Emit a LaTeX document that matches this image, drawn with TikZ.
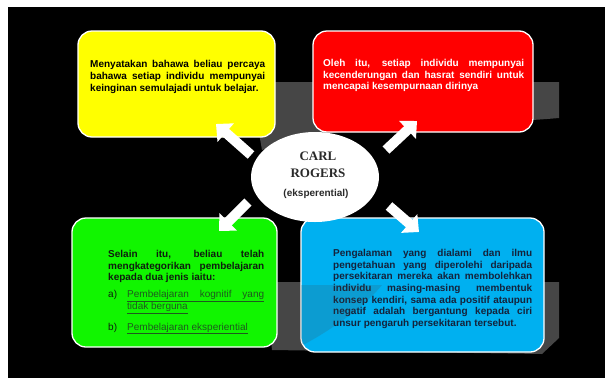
\documentclass[tikz,border=0pt]{standalone}
\usepackage{fontspec}
\setmainfont{Liberation Sans}
\newfontfamily\rogersfont{Liberation Serif}
\usetikzlibrary{arrows.meta,shapes.geometric}
\definecolor{swoosh}{HTML}{464646}
\definecolor{ybox}{HTML}{FFFF00}
\definecolor{rbox}{HTML}{FF0000}
\definecolor{gbox}{HTML}{11F500}
\definecolor{bbox}{HTML}{00B0F0}
\definecolor{bluetext}{HTML}{14233C}
\definecolor{greentext}{HTML}{0E1E0E}
\definecolor{linktext}{HTML}{1E5A1E}
\definecolor{titletext}{HTML}{2A2A2A}
\newcommand\JL[2]{\makebox[#1][s]{#2}}
\begin{document}
\begin{tikzpicture}[x=1pt,y=-1pt,
  card/.style={draw=white, line width=1.3pt, rounded corners=14pt, inner sep=0pt},
  body/.style={inner sep=0pt, anchor=north west, align=left,
    font=\fontsize{10}{11.7}\selectfont\bfseries},
  bigarrow/.style={draw=white, line width=10pt, -{Triangle[width=24pt,length=13pt]}},
]
\useasboundingbox (0,0) rectangle (605,378);
\fill[white] (0,0) rectangle (605,378);
\fill[black] (8,7) rectangle (605,378);

% decorative swooshes
\fill[swoosh] (250,82) -- (559,82) -- (559,118)
  .. controls (470,126) and (330,122) .. (262,150) -- cycle;
\fill[swoosh] (265,282) -- (559,282) -- (559,338) -- (542,354) -- (272,350) -- cycle;

% boxes
\node[card, fill=ybox, minimum width=197pt, minimum height=106pt] (yellow) at (176.5,84) {};
\node[card, fill=rbox, minimum width=220pt, minimum height=101pt] (red) at (423,81.5) {};
\node[card, fill=gbox, minimum width=205pt, minimum height=129pt] (green) at (174.5,282.5) {};
\node[card, fill=bbox, minimum width=243pt, minimum height=134pt] (blue) at (422.5,285) {};

% texts
\node[body, text=black] (ytext) at (90,60.5) {%
\JL{175pt}{Menyatakan bahawa beliau percaya}\\
\JL{175pt}{bahawa setiap individu mempunyai}\\
keinginan semulajadi untuk belajar.};

\node[body, text=white] (rtext) at (323,59) {%
\JL{201pt}{Oleh itu, setiap individu mempunyai}\\
\JL{201pt}{kecenderungan dan hasrat sendiri untuk}\\
mencapai kesempurnaan dirinya};

\node[body, text=greentext] (gtext) at (108,250) {%
\JL{156pt}{Selain itu, beliau telah}\\
\JL{156pt}{mengkategorikan pembelajaran}\\
kepada dua jenis iaitu:\\[5.3pt]
{\mdseries\makebox[19pt][l]{a)}\color{linktext}\underline{\JL{137pt}{Pembelajaran kognitif yang}}}\\
{\mdseries\hspace*{19pt}\color{linktext}\underline{tidak berguna}}\\[8.8pt]
{\mdseries\makebox[19pt][l]{b)}\color{linktext}\underline{Pembelajaran eksperiential}}};

\node[body, text=bluetext] (btext) at (333,249) {%
\JL{199pt}{Pengalaman yang dialami dan ilmu}\\
\JL{199pt}{pengetahuan yang diperolehi daripada}\\
\JL{199pt}{persekitaran mereka akan membolehkan}\\
\JL{199pt}{individu masing-masing membentuk}\\
\JL{199pt}{konsep kendiri, sama ada positif ataupun}\\
\JL{199pt}{negatif adalah bergantung kepada ciri}\\
unsur pengaruh persekitaran tersebut.};

% translucent swoosh over the blue box
\begin{scope}
  \clip[rounded corners=14pt] (301,218) rectangle (544,352);
  \fill[swoosh, opacity=0.18] (301,285) -- (382,285)
    .. controls (366,305) and (332,330) .. (301,346) -- cycle;
\end{scope}

% centre ellipse
\node[ellipse, fill=white, minimum width=128pt, minimum height=90pt, inner sep=0pt] (centre) at (315,177) {};
\node[font=\rogersfont\bfseries\fontsize{13}{17}\selectfont, text=titletext, align=center, inner sep=0pt] (title) at (318,164.5) {CARL\\ROGERS};
\node[font=\fontsize{10}{11}\selectfont\bfseries, text=titletext, inner sep=0pt] (sub) at (316,194) {(eksperential)};

% block arrows
\coordinate (a1s) at (251,155); \coordinate (a1e) at (216,124);
\coordinate (a2s) at (386,150); \coordinate (a2e) at (417,121);
\coordinate (a3s) at (248,202); \coordinate (a3e) at (219,231);
\coordinate (a4s) at (389,206); \coordinate (a4e) at (419,232);
\draw[bigarrow] (a1s) -- (a1e);
\draw[bigarrow] (a2s) -- (a2e);
\draw[bigarrow] (a3s) -- (a3e);
\draw[bigarrow] (a4s) -- (a4e);
\end{tikzpicture}
\end{document}
